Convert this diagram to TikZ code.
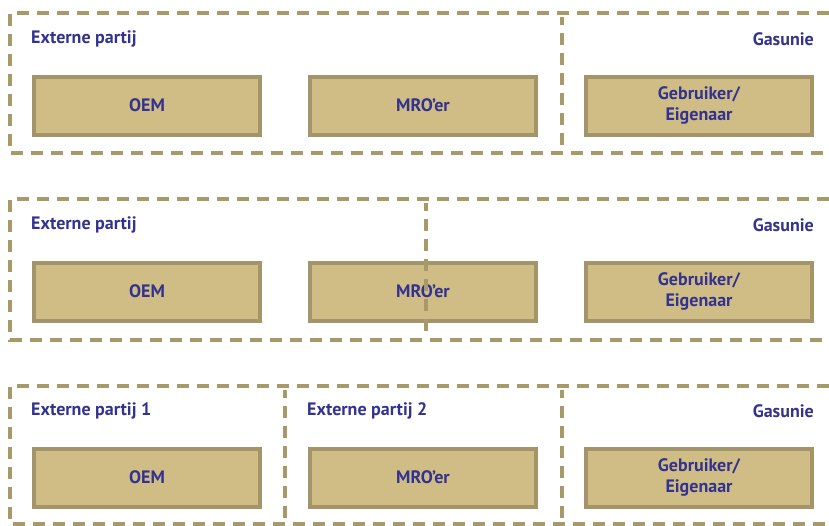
\documentclass[tikz,border=0pt]{standalone}
\usepackage{fontspec}
\setmainfont{PT Sans}
\definecolor{dashc}{HTML}{A89A68}
\definecolor{boxfill}{HTML}{CFBD85}
\definecolor{boxline}{HTML}{A39469}
\definecolor{txt}{HTML}{33338F}
\begin{document}
\begin{tikzpicture}[x=1pt,y=-1pt,
  frame/.style={draw=dashc,line width=4pt,dash pattern=on 12pt off 8pt},
  rolebox/.style={draw=boxline,fill=boxfill,line width=4pt,minimum width=226pt,minimum height=58pt,inner sep=0pt,
     font=\fontsize{18}{21}\selectfont\bfseries,text=txt,align=center},
  grouplbl/.style={font=\fontsize{18}{20}\selectfont\bfseries,text=txt,inner sep=0pt}]
\useasboundingbox (0,0) rectangle (829,525);
% ---------- row 1
\draw[frame] (829,13) -- (10,13) -- (10,153) -- (829,153);
\draw[frame,dash phase=4pt] (562,17) -- (562,149);
\node[grouplbl,anchor=west] (l1a) at (31,39) {Externe partij};
\node[grouplbl,anchor=east] (l1b) at (814,39) {Gasunie};
\node[rolebox] (oem1) at (147,105.5) {OEM};
\node[rolebox] (mro1) at (423,105.5) {MRO’er};
\node[rolebox] (geb1) at (699,105.5) {Gebruiker/\\Eigenaar};
% ---------- row 2
\draw[frame] (829,199) -- (10,199) -- (10,340) -- (829,340);
\node[grouplbl,anchor=west] (l2a) at (31,225) {Externe partij};
\node[grouplbl,anchor=east] (l2b) at (814,225) {Gasunie};
\node[rolebox] (oem2) at (147,291.5) {OEM};
\node[rolebox] (mro2) at (423,291.5) {MRO’er};
\node[rolebox] (geb2) at (699,291.5) {Gebruiker/\\Eigenaar};
\draw[frame,dash phase=4pt] (426,203) -- (426,334);
% ---------- row 3
\draw[frame] (829,386) -- (10,386) -- (10,524) -- (829,524);
\draw[frame,dash phase=4pt] (285,390) -- (285,520);
\draw[frame,dash phase=4pt] (562,390) -- (562,520);
\node[grouplbl,anchor=west] (l3a) at (31,411) {Externe partij 1};
\node[grouplbl,anchor=west] (l3b) at (307,411) {Externe partij 2};
\node[grouplbl,anchor=east] (l3c) at (814,411) {Gasunie};
\node[rolebox] (oem3) at (147,477.5) {OEM};
\node[rolebox] (mro3) at (423,477.5) {MRO’er};
\node[rolebox] (geb3) at (699,477.5) {Gebruiker/\\Eigenaar};
\end{tikzpicture}
\end{document}
